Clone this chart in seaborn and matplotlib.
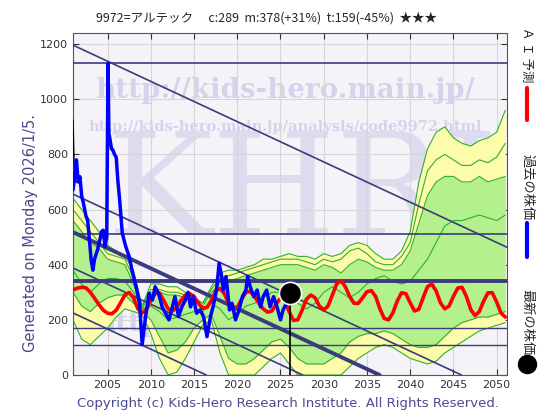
import numpy as np
import pandas as pd
import matplotlib
matplotlib.use("Agg")
import matplotlib.pyplot as plt
import seaborn as sns

sns.set_style("ticks")
plt.rcParams['font.family'] = ['DejaVu Sans', 'Noto Sans CJK JP']

# past price (blue)
hist_year = [2001.0, 2001.2, 2001.4, 2001.6, 2001.8, 2002.0, 2002.2, 2002.5, 2002.7, 2002.9,
             2003.1, 2003.3, 2003.5, 2003.8, 2004.1, 2004.3, 2004.5, 2004.7, 2004.9, 2005.05,
             2005.15, 2005.3, 2005.45, 2005.6, 2005.8, 2006.0, 2006.2, 2006.4, 2006.7, 2007.1,
             2007.5, 2007.9, 2008.3, 2008.7, 2009.0, 2009.4, 2009.8, 2010.2, 2010.5, 2010.9,
             2011.3, 2011.7, 2012.1, 2012.4, 2012.8, 2013.2, 2013.6, 2014.0, 2014.3, 2014.6,
             2014.9, 2015.3, 2015.7, 2016.1, 2016.5, 2016.9, 2017.2, 2017.6, 2017.9, 2018.2,
             2018.4, 2018.7, 2019.1, 2019.4, 2019.8, 2020.2, 2020.6, 2021.0, 2021.2, 2021.5,
             2021.9, 2022.3, 2022.7, 2023.0, 2023.4, 2023.8, 2024.2, 2024.6, 2025.0, 2025.3,
             2025.7, 2026.0]
hist_price = [671, 720, 780, 700, 719, 650, 624, 576, 560, 489,
              417, 380, 421, 450, 489, 520, 525, 465, 500, 1130,
              877, 850, 820, 816, 800, 789, 700, 634, 514, 466,
              429, 369, 320, 260, 110, 212, 296, 272, 320, 296,
              248, 224, 200, 236, 284, 212, 248, 272, 300, 247,
              284, 224, 236, 212, 139, 212, 247, 308, 405, 357,
              308, 357, 236, 260, 200, 236, 284, 308, 357, 320,
              284, 308, 247, 284, 308, 247, 284, 247, 200, 236,
              260, 289]
black_year = [2001.0, 2001.1, 2001.2]
black_price = [925, 800, 700]

# AI forecast (red)
ai_year = [2001.0 + 0.5 * i for i in range(101)]
ai_price = [308, 315, 318, 316, 300, 278, 255, 235, 224, 222,
            235, 262, 290, 299, 280, 240, 225, 238, 270, 295,
            298, 270, 240, 232, 245, 270, 290, 295, 285, 260,
            242, 245, 270, 305, 314, 295, 260, 236, 245, 275,
            300, 303, 285, 260, 240, 228, 232, 258, 278, 270,
            230, 198, 200, 235, 275, 290, 280, 250, 236, 250,
            290, 330, 342, 320, 285, 260, 260, 280, 302, 306,
            285, 240, 205, 200, 225, 268, 298, 295, 262, 232,
            238, 280, 320, 330, 305, 262, 240, 250, 285, 315,
            318, 285, 238, 215, 230, 268, 298, 298, 265, 225,
            210]

# forecast ranges, yearly
band_year = list(range(2001, 2052))
outer_hi = [640, 600, 560, 520, 470, 450, 430, 380, 250, 330,
            330, 320, 320, 300, 280, 260, 320, 370, 380, 380,
            390, 400, 420, 420, 430, 440, 430, 430, 420, 440,
            430, 440, 470, 480, 470, 440, 420, 420, 450, 520,
            700, 820, 880, 900, 860, 840, 830, 850, 860, 880,
            960]
outer_lo = [200, 130, 110, 140, 170, 210, 240, 230, 220, 150,
            60, 0, 10, 60, 120, 180, 200, 80, 0, 0,
            0, 0, 30, 60, 80, 40, 0, 0, 0, 0,
            0, 0, 30, 60, 80, 100, 110, 100, 80, 60,
            50, 40, 50, 80, 100, 120, 140, 160, 170, 180,
            190]
inner_hi = [560, 520, 480, 460, 420, 410, 400, 330, 240, 300,
            300, 290, 290, 280, 270, 250, 300, 330, 340, 350,
            360, 370, 380, 390, 400, 400, 400, 390, 380, 400,
            390, 370, 400, 420, 410, 390, 380, 380, 400, 450,
            550, 650, 700, 720, 720, 700, 700, 720, 700, 710,
            720]
inner_lo = [300, 250, 230, 260, 280, 290, 290, 260, 230, 200,
            140, 80, 90, 120, 170, 200, 220, 140, 60, 40,
            40, 60, 90, 120, 130, 100, 60, 40, 40, 40,
            60, 80, 120, 140, 150, 150, 160, 150, 130, 110,
            100, 100, 110, 140, 170, 190, 200, 210, 210, 220,
            230]
path_a = [600, 560, 520, 480, 440, 430, 420, 350, 250, 310,
          310, 300, 300, 290, 280, 260, 310, 350, 360, 370,
          380, 390, 400, 410, 420, 420, 420, 410, 400, 420,
          410, 420, 450, 460, 440, 410, 400, 400, 430, 480,
          620, 740, 780, 800, 780, 760, 760, 780, 770, 790,
          840]
path_b = [380, 330, 300, 330, 350, 350, 340, 300, 240, 250,
          230, 200, 210, 220, 230, 230, 260, 240, 200, 220,
          250, 260, 280, 300, 300, 280, 260, 240, 260, 300,
          320, 300, 280, 300, 330, 350, 360, 340, 330, 340,
          380, 420, 480, 540, 560, 560, 570, 580, 570, 560,
          580]

# support / resistance lines
hlines = [1130, 511, 341, 170, 109]
hline_w = [1.2, 1.2, 2.8, 1.0, 1.0]
diag_start = [1196, 656, 518, 388, 225]   # value at 2001
diag_w = [1.2, 1.2, 2.8, 1.2, 1.2]
slope = -14.6

latest_year, latest_price = 2026.1, 297

navy = '#3c3c7c'
wm = '#d3d3ec'

fig = plt.figure(figsize=(5.6, 4.2), dpi=100)
ax = fig.add_axes([73/560, 45/420, 434/560, 342/420])
ax.set_facecolor('#f6f3f8')

# watermarks
ax.text(2027.5, 650, 'KHRI', fontsize=102, family='DejaVu Serif', color='#dedbee',
        ha='center', va='center', zorder=0)
ax.text(2025.5, 1030, 'http://kids-hero.main.jp/', fontsize=20, family='DejaVu Serif',
        weight='bold', color=wm, ha='center', va='center', zorder=0)
ax.text(2025.5, 900, 'http://kids-hero.main.jp/analysis/code9972.html', fontsize=10.5,
        family='DejaVu Serif', weight='bold', color=wm, ha='center', va='center', zorder=0)
ax.text(2025.5, 185, 'http://kids-hero.main.jp/', fontsize=20, family='DejaVu Serif',
        weight='bold', color=wm, ha='center', va='center', zorder=0)

ax.grid(True, color='#d6d6d6', lw=0.8)

# ranges
ax.fill_between(band_year, outer_lo, outer_hi, color='#fcfcaa', lw=0, zorder=1)
ax.fill_between(band_year, inner_lo, inner_hi, color='#b4f08c', lw=0, zorder=1)
for s in [outer_hi, outer_lo, inner_hi, inner_lo, path_a, path_b]:
    sns.lineplot(x=band_year, y=s, color='#30b030', lw=0.8, ax=ax, zorder=2)

for v, w in zip(hlines, hline_w):
    ax.axhline(v, color=navy, lw=w, zorder=3)
for b, w in zip(diag_start, diag_w):
    ax.axline((2001, b), slope=slope, color=navy, lw=w, zorder=3)

sns.lineplot(x=black_year + hist_year[3:], y=black_price + hist_price[3:],
             color='black', lw=1.0, ax=ax, zorder=4)
sns.lineplot(x=ai_year, y=ai_price, color='#ff0000', lw=2.6, ax=ax, zorder=5)
sns.lineplot(x=hist_year, y=hist_price, color='#0000ff', lw=2.5, ax=ax, zorder=6)

ax.plot([latest_year, latest_year], [0, latest_price], color='black', lw=1.2, zorder=6)
ax.plot([latest_year], [latest_price], 'o', ms=16, color='black', mec='white', mew=1.2, zorder=7)

ax.set_xlim(2001, 2051.2)
ax.set_ylim(0, 1240)
ax.set_xticks(range(2005, 2051, 5))
ax.set_yticks(range(0, 1201, 200))
ax.tick_params(direction='in', top=True, right=True, labelsize=8, length=4, colors='#333333')
for sp in ax.spines.values():
    sp.set_color('#555555')
ax.set_xlabel('')
ax.set_ylabel('')
fig.text(31/560, 1 - 233/420, 'Generated on Monday 2026/1/5.', rotation=90,
         color='#4a4a8a', fontsize=10.5, ha='center', va='center')

jp = ['Noto Sans CJK JP', 'DejaVu Sans']
fig.text(0.476, 0.958, '9972=アルテック　 c:289  m:378(+31%)  t:159(-45%)  ★★★',
         ha='center', va='center', fontsize=9, family=jp)
fig.text(0.515, 0.04, 'Copyright (c) Kids-Hero Research Institute. All Rights Reserved.',
         ha='center', va='center', fontsize=9.5, color='#4a4a90')

# legend on the right
fig.text(527/560, 1 - 55/420, 'Ａ Ｉ 予測', rotation=-90, ha='center', va='center',
         fontsize=9, family=jp)
fig.add_artist(plt.Line2D([527/560, 527/560], [1 - 88/420, 1 - 120/420], color='#ff0000', lw=3))
fig.text(527/560, 1 - 187/420, '過去の株価', rotation=-90, ha='center', va='center',
         fontsize=9.5, family=jp)
fig.add_artist(plt.Line2D([527/560, 527/560], [1 - 223/420, 1 - 257/420], color='#0000ff', lw=3))
fig.text(527/560, 1 - 322/420, '最新の株価', rotation=-90, ha='center', va='center',
         fontsize=9.5, family=jp)
fig.add_artist(plt.Line2D([527/560], [1 - 364/420], marker='o', ms=13, color='black'))

fig.savefig('out.png', dpi=100)
